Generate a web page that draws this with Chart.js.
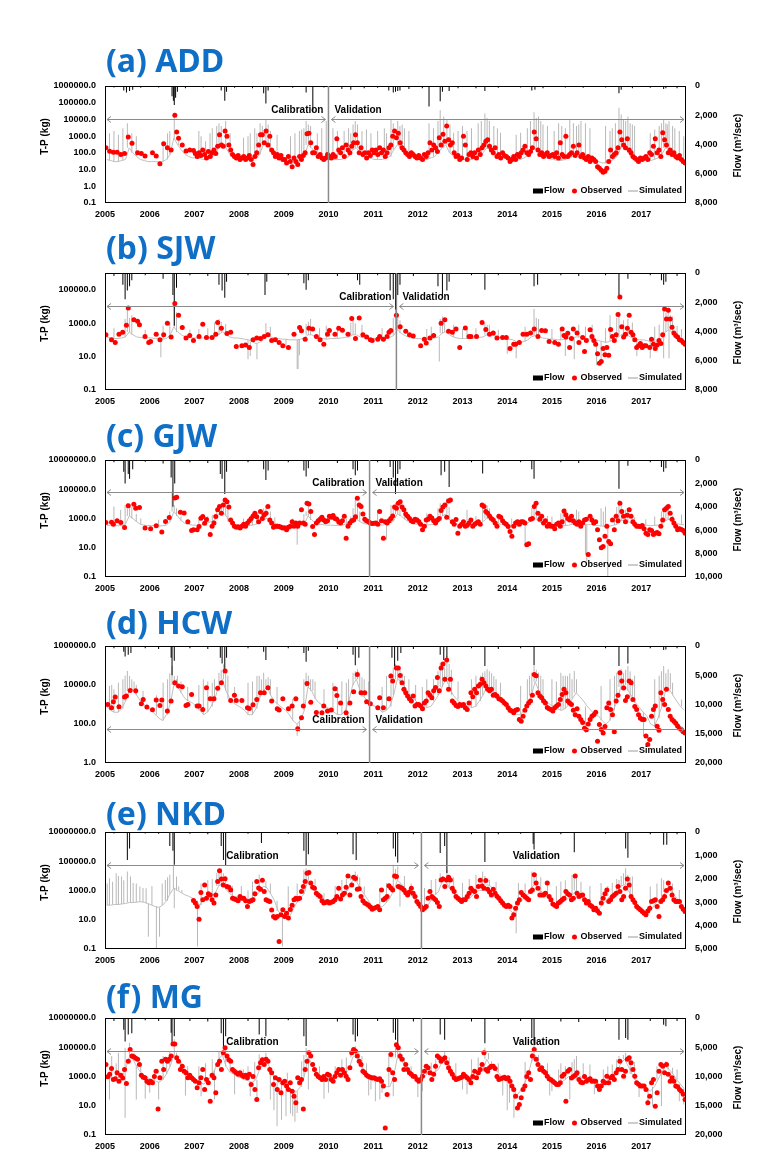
<!DOCTYPE html>
<html>
<head>
<meta charset="utf-8">
<script src="https://cdn.jsdelivr.net/npm/chart.js@4.4.1/dist/chart.umd.min.js"></script>
<style>
body { margin: 0; background: #fff; }
#page { position: relative; width: 780px; height: 1169px; overflow: hidden; }
#page canvas { position: absolute; left: 0; }
</style>
</head>
<body>
<div id="page"></div>
<script>
// x axis: one label per year, the axis closes at 2018 without a label
const yearLabels = [2005, 2006, 2007, 2008, 2009, 2010, 2011, 2012, 2013, 2014, 2015, 2016, 2017];

// observed T-P (kg), half-month slots from Jan 2005, one row per year, 0 = no sample
const obsADD = [
200,0,125,0,110,0,110,0,80,0,90,0,900,0,380,0,0,100,0,90,0,65,0,0,
0,100,0,65,0,22,0,350,0,200,0,150,0,18000,1800,750,0,300,0,130,0,150,0,140,
90,60,100,70,150,80,50,120,60,100,150,90,250,1200,300,250,2000,1000,300,150,80,60,50,70,
40,50,60,40,50,70,40,20,60,100,300,1200,1200,400,2000,300,1000,150,100,60,80,50,70,40,
40,25,60,30,15,50,30,20,60,40,70,100,1400,1500,400,100,100,200,60,80,50,40,50,80,
60,50,80,60,700,150,100,200,60,300,150,100,250,400,1200,400,100,200,80,100,50,100,70,150,
100,150,80,200,100,150,60,100,200,300,1000,2000,800,1500,400,200,150,100,80,60,100,80,60,50,
70,50,40,80,60,100,400,150,300,200,120,800,300,1300,500,4000,600,300,400,100,60,70,40,50,
1000,300,40,80,100,60,100,50,150,80,200,300,500,600,250,150,100,200,60,80,50,100,70,60,
50,30,40,60,40,80,60,100,150,250,100,80,120,200,1800,700,150,80,100,60,80,100,60,70,
80,60,100,50,400,80,60,1000,60,80,100,250,70,100,300,60,80,50,40,60,30,50,40,30,
15,12,9,7,8,12,30,150,60,80,100,200,1800,600,300,200,700,150,100,60,50,40,30,50,
40,50,60,40,100,80,250,700,100,150,60,1600,600,300,100,150,80,100,60,50,70,40,30,25];
const obsSJW = [
200,0,0,100,0,70,0,220,0,290,0,750,8000,0,0,1600,0,1300,800,0,0,160,0,70,
80,0,0,220,0,100,0,200,0,1000,0,150,0,15000,0,3000,0,550,0,130,0,180,0,90,
0,0,160,0,850,0,140,0,0,140,0,220,1100,0,500,0,0,240,0,290,0,0,40,0,
0,45,0,50,0,35,0,100,0,130,0,120,0,160,0,200,0,90,0,100,0,70,0,45,
0,0,35,0,0,220,0,0,550,350,0,110,0,500,0,450,0,160,0,100,0,55,0,220,
360,0,0,220,0,500,0,370,0,0,220,0,1900,0,120,0,2000,0,200,0,150,0,100,90,
0,0,110,160,0,110,0,160,290,360,0,0,3000,0,600,0,0,330,0,200,0,170,0,0,
0,45,0,110,65,0,130,0,180,0,0,0,1000,0,1600,0,330,0,290,0,450,0,35,0,
0,520,0,160,160,0,0,160,0,0,1100,0,420,0,220,0,260,0,130,0,0,140,0,140,
0,30,0,55,55,0,70,0,220,0,220,0,260,0,450,0,160,0,360,0,350,0,80,0,
0,70,0,55,0,450,180,150,250,35,120,450,0,260,70,0,140,20,90,0,400,160,90,55,
15,4,5,30,13,35,12,420,160,90,200,3300,37000,600,150,220,500,3000,290,200,100,35,45,60,
35,45,45,0,35,110,55,30,50,90,60,200,7000,1800,6000,1800,560,260,180,150,100,90,70,55];
const obsGJW = [
530,0,0,560,400,0,690,0,530,0,245,0,7300,0,0,9500,5000,0,5600,0,0,220,0,0,
200,0,0,320,0,0,120,0,620,0,1170,0,0,25000,28000,0,2700,0,2400,0,590,0,150,170,
0,170,285,1050,1370,470,850,0,80,300,500,1370,3900,6600,2300,8500,18600,14000,6000,800,500,300,250,270,
220,300,400,300,500,700,1000,1500,2300,1300,600,3000,1000,1800,2300,6600,800,500,250,300,300,280,250,220,
220,170,250,300,600,300,500,300,500,3900,500,400,11000,10000,3000,280,80,500,700,900,1200,800,600,700,
1400,1200,1600,1000,900,600,500,700,1400,45,300,500,700,800,1300,24000,8500,6600,2000,900,700,600,500,450,
480,500,400,3000,700,45,600,500,700,1000,1500,6000,5000,11000,14000,6000,4000,2000,1400,1000,700,600,900,800,
620,400,170,300,800,900,1400,1100,700,500,800,1000,3500,6000,8500,1200,16000,18600,600,400,850,100,300,400,
600,300,350,500,800,300,400,500,600,400,8500,6600,3000,2300,1500,1000,800,500,300,1400,1200,700,500,400,
280,130,60,300,500,600,400,600,600,500,16,19,900,1000,6600,11000,2300,900,1400,500,700,300,400,300,
300,200,400,500,300,600,3300,1800,1000,800,1400,700,500,400,600,300,500,800,900,3.4,1400,800,500,600,
170,35,10,12,60,300,27,19,800,170,1400,700,11000,3000,1400,600,1700,3900,1400,600,400,300,300,280,
330,200,100,80,170,150,80,100,110,90,300,800,3900,5000,6600,2300,900,500,300,170,200,180,150,100];
const obsHCW = [
0,1000,0,680,1400,2400,0,760,0,0,2400,2700,0,5300,0,0,5000,0,0,1100,1800,0,740,0,
0,540,0,1700,0,900,1700,0,0,470,0,1500,0,13000,0,9000,0,8200,0,900,1000,0,3300,0,
0,830,830,0,560,0,7300,0,2000,0,2000,0,6800,0,13000,0,52000,0,0,1600,0,3000,1600,0,
0,1600,0,0,680,630,0,960,0,1800,0,4000,0,4000,0,7300,0,1500,0,0,610,520,0,2000,
0,0,610,0,830,0,2000,57,0,210,830,0,12000,0,1300,0,0,390,0,0,380,830,0,460,
0,520,0,6500,2900,0,1200,0,0,380,0,1200,0,4500,0,35000,0,4000,0,4000,1400,0,1100,0,
0,0,680,2200,0,680,0,0,2000,29000,16000,0,75000,75000,31000,13000,6000,4000,2700,2000,1500,2700,830,1000,
1000,830,600,1200,1500,4000,3000,2200,5000,7500,24000,5000,75000,120000,20000,190000,6000,20000,1500,1200,900,800,1000,900,
1000,680,560,1200,4000,2500,6000,4000,9000,11000,20000,13000,9000,6000,5000,6000,3000,3300,2700,2000,1800,1500,1200,1000,
680,500,460,380,500,560,170,140,250,500,830,1200,1500,3000,35000,30000,4000,2700,2200,1500,1200,700,600,560,
460,680,830,1000,1800,3300,6000,4000,1500,1200,1000,500,300,600,250,170,120,60,50,100,170,250,300,400,
13,95,52,35,75,680,1200,560,300,40,1500,3000,43000,16000,7000,1600,2500,16000,13000,1800,800,560,300,200,
170,170,24,9,16,250,560,830,77,48,4000,1800,1000,6000,560,250,170,140,110,80,60,52,40,35];
const obsNKD = [
0,0,0,0,0,0,0,0,0,0,0,0,0,0,0,0,0,0,0,0,0,0,0,0,
0,0,0,0,0,0,0,0,0,0,0,0,0,0,0,0,0,0,0,0,0,0,0,210,
140,80,11,730,230,2400,300,590,500,230,140,500,4100,22000,6000,2400,6300,1900,1700,1100,300,260,230,200,
390,300,300,200,80,180,200,230,600,4100,1500,1200,5000,850,230,200,180,47,17,13,17,0.33,22,48,
17,28,13,50,100,230,300,260,300,850,1900,4100,15000,17000,3200,1700,1400,660,500,390,200,140,150,180,
140,160,180,230,390,1400,260,500,660,1700,10000,500,2400,8000,6600,1200,1300,390,200,140,120,100,73,53,
62,70,80,48,1100,230,300,390,2100,1500,1100,10000,9000,1900,1700,1400,1100,700,500,800,1400,660,390,180,
120,80,48,60,80,300,850,390,300,230,150,80,5300,6000,1900,5300,8000,5300,1400,850,390,300,230,180,
230,230,390,660,1400,1000,850,390,1900,5000,2000,1400,4800,1200,800,500,1200,660,400,300,200,140,100,80,
100,80,13,22,62,140,230,730,500,390,300,230,850,1100,12000,3200,1400,500,500,500,660,3200,390,230,
120,100,80,140,180,230,300,850,600,500,230,300,10000,660,390,450,500,230,140,180,100,80,48,62,
40,28,140,300,600,1100,180,230,390,500,660,1900,850,230,390,1400,6000,2400,390,230,150,80,60,48,
37,28,22,40,62,180,200,230,80,17,180,230,390,1000,3200,1400,500,230,180,180,180,80,53,37];
const obsMG = [
6700,960,1400,3500,620,700,1800,480,1200,800,3000,330,11000,71000,25000,22000,18000,15000,6700,1200,900,810,480,370,
480,370,1000,2300,6,810,11000,3000,15000,11000,15000,25000,170000,170000,19000,11000,3000,5100,2300,1800,810,1200,810,620,
480,170,370,810,3000,130,620,370,20,1200,810,76,6700,11000,3000,42000,92000,25000,14000,11000,3000,2300,1800,1400,
1800,1200,1000,1200,810,1400,280,1000,130,27,3900,8700,14000,6700,15000,11000,3000,1800,280,810,130,620,76,370,
480,220,130,370,100,45,16,810,370,620,6,3000,11000,42000,25000,6700,3000,1400,1000,810,620,1000,620,1400,
1200,620,480,1000,1800,3000,1200,3000,1800,1050,620,3900,42000,71000,55000,25000,11000,6700,2300,1800,1200,1000,900,800,
810,700,620,700,480,220,0.3,58,3000,32000,1800,620,150000,92000,25000,15000,3000,6700,3000,1800,1400,1050,1000,620,
480,620,1050,2300,5100,3900,1800,620,1400,5100,25000,19000,11000,15000,19000,8700,3900,2300,1400,810,620,700,800,900,
1400,1050,810,620,370,1000,2300,810,1800,3000,6700,42000,3000,2300,3900,5100,5100,3500,1000,620,700,800,900,700,
810,480,220,130,45,7,12,35,130,220,1000,1800,620,25000,71000,15000,6700,3000,3900,2300,1800,1050,700,600,
480,370,280,280,370,1050,1400,20,2300,3000,800,1000,1200,1800,620,400,370,1000,480,600,700,480,500,480,
220,130,220,480,370,1050,370,810,1050,620,1800,3000,11000,3000,1050,2300,15000,19000,8700,3000,1050,370,300,220,
220,220,130,16,45,370,620,9.3,76,2300,6700,5100,1800,6700,1400,480,810,480,220,200,130,100,60,27];

// simulated T-P (kg), monthly level from Jan 2005
const simADD = [
40,35,30,30,35,40,200,100,60,40,35,30, 30,30,28,30,40,80,800,300,150,80,60,50,
50,45,40,40,50,80,200,400,200,80,60,50, 45,40,40,40,50,80,300,400,150,80,60,50,
40,35,35,35,40,60,300,200,100,60,50,45, 40,40,40,40,50,60,150,200,100,60,50,45,
40,40,40,50,60,150,300,200,100,70,60,50, 45,40,40,50,60,100,200,300,100,70,50,45,
40,40,40,50,60,100,200,150,100,70,50,45, 40,35,35,40,50,70,150,200,100,60,50,45,
40,35,35,40,50,60,100,80,60,50,40,35, 30,25,25,30,40,60,200,300,100,60,50,40,
35,35,35,40,50,80,200,150,100,60,50,40];
const simSJW = [
150,130,120,120,130,150,300,200,150,140,130,130, 130,120,110,110,120,200,600,300,200,150,140,130,
130,130,130,130,140,150,200,300,200,150,130,130, 120,110,100,80,60,70,100,200,150,130,120,110,
110,100,100,100,110,130,200,200,150,130,120,110, 120,120,120,130,140,150,200,200,150,130,120,120,
120,120,120,130,140,180,400,250,180,150,130,120, 120,110,110,120,130,150,250,300,200,150,130,120,
120,120,120,130,140,150,200,200,180,150,130,120, 110,100,80,70,80,100,150,180,150,130,120,110,
110,100,100,110,120,130,150,150,130,120,110,100, 90,80,70,80,100,120,200,250,180,130,110,100,
100,90,80,80,90,120,300,400,250,150,120,100];
const simGJW = [
350,330,320,320,330,400,1500,1000,600,400,350,330, 330,320,310,320,350,600,3000,1500,700,450,400,350,
350,350,400,500,600,800,2000,3000,1500,600,400,350, 330,320,330,350,400,500,800,1000,700,450,400,350,
330,300,300,320,350,400,1500,800,500,400,380,350, 350,340,330,350,400,500,800,900,600,450,400,380,
370,360,350,400,500,700,2000,1500,900,600,450,400, 380,370,360,380,400,500,1500,2000,800,500,420,400,
380,380,380,400,450,600,1000,900,600,450,400,380, 360,340,300,320,400,500,700,1000,600,450,400,370,
350,330,320,330,350,400,500,450,420,400,380,350, 330,300,280,300,350,400,700,800,600,450,400,380,
360,340,320,330,350,400,700,900,600,450,400,370];
const simHCW = [
800,500,400,400,600,1500,5000,6000,3000,1500,1000,700, 500,300,200,150,300,1000,10000,8000,4000,2000,1500,1200,
800,500,300,400,800,2000,8000,20000,5000,2000,1200,900, 700,500,300,300,600,2000,5000,8000,3000,1500,1000,700,
500,300,150,100,150,500,8000,5000,2000,1200,900,700, 600,400,300,300,500,1500,10000,20000,5000,2500,1500,1000,
800,600,400,500,800,3000,20000,15000,8000,4000,2500,1500, 1000,800,700,800,1500,3000,8000,20000,8000,3000,1800,1200,
1000,800,700,800,1500,3000,8000,6000,3000,2000,1500,1000, 800,500,300,300,500,1000,3000,15000,5000,2500,1500,1000,
800,600,500,600,1000,2000,4000,2500,1500,800,500,300, 250,150,100,150,500,1500,8000,10000,5000,2500,1200,700,
400,250,100,80,200,800,5000,6000,3000,1500,800,500];
const simNKD = [
100,100,110,110,120,130,150,150,160,170,160,130, 100,80,70,100,200,600,1500,1000,700,500,400,300,
200,100,300,300,400,600,2000,3000,1200,600,400,350, 300,250,250,300,400,800,2000,1500,600,200,40,20,
15,15,50,150,300,600,5000,2500,1000,500,300,200, 150,180,250,400,600,1500,5000,4000,1500,600,250,100,
70,70,80,150,300,1000,5000,3000,1500,800,400,200, 120,80,80,200,500,800,4000,4000,1500,700,350,200,
200,250,400,800,1000,1000,2500,2000,1000,500,250,100, 50,30,60,150,300,500,1500,3000,1000,800,400,250,
120,100,120,200,300,500,1000,600,400,250,150,80, 50,100,200,400,600,800,2000,2500,1000,400,150,80,
40,30,40,100,200,300,800,1200,600,300,150,60];
const simMG = [
1000,800,700,800,1000,3000,20000,15000,5000,2000,1200,800, 600,500,400,600,1500,5000,30000,15000,5000,2000,1200,800,
600,400,300,500,1000,3000,15000,30000,5000,2000,1500,1000, 800,600,500,400,600,3000,8000,10000,3000,800,400,300,
200,150,100,100,200,1000,20000,8000,2000,1000,800,600, 800,900,1000,1200,1500,3000,20000,30000,8000,3000,1500,1000,
800,600,400,200,200,1000,20000,15000,5000,2000,1200,800, 700,800,1500,2000,2000,3000,10000,20000,5000,2000,1000,800,
800,700,600,800,1500,3000,15000,5000,3000,2000,1000,800, 500,200,50,100,300,1000,10000,30000,5000,2500,1500,800,
500,400,400,600,1000,800,1500,1000,800,700,600,500, 300,300,400,600,800,2000,8000,15000,5000,1500,600,300,
250,150,100,200,600,2000,5000,3000,1500,600,300,150];

// simulated daily extremes [year, T-P kg], drawn as needles from the monthly level
const spkADD = [[2005.1,1500],[2005.2,2000],[2005.3,1200],[2005.4,3000],[2005.5,6000],[2005.6,1500],[2005.7,1000],[2006.3,500],[2006.4,1500],[2006.45,2000],[2006.55,25000],[2006.65,1000],[2007.1,2000],[2007.15,1000],[2007.25,500],[2007.35,1500],[2007.4,3000],[2007.5,4000],[2007.55,6000],[2007.6,4000],[2007.7,8000],[2007.8,1500],[2008.1,800],[2008.2,1000],[2008.25,1500],[2008.35,3000],[2008.4,1500],[2008.47,6000],[2008.52,4000],[2008.6,10000],[2008.65,5000],[2008.7,2000],[2008.85,1200],[2009.15,1000],[2009.25,1500],[2009.35,2000],[2009.4,2500],[2009.45,3000],[2009.5,8000],[2009.55,5000],[2009.6,4000],[2009.75,1500],[2009.85,3000],[2009.95,8000],[2010.1,3000],[2010.2,2000],[2010.35,2000],[2010.45,3000],[2010.5,1500],[2010.55,5000],[2010.6,8000],[2010.65,5000],[2010.75,2000],[2010.85,2500],[2010.95,1500],[2011.1,2000],[2011.25,3000],[2011.3,1500],[2011.4,10000],[2011.45,6000],[2011.55,8000],[2011.6,4000],[2011.65,5000],[2011.7,3000],[2011.8,2000],[2012.25,6000],[2012.35,3000],[2012.45,8000],[2012.5,36000],[2012.58,15000],[2012.65,10000],[2012.72,5000],[2012.8,1600],[2012.9,2000],[2013.0,4000],[2013.1,2000],[2013.2,3000],[2013.35,6000],[2013.42,8000],[2013.5,23000],[2013.55,12000],[2013.6,8000],[2013.7,4000],[2013.78,3000],[2013.85,1600],[2014.2,1200],[2014.3,1600],[2014.45,3000],[2014.52,8000],[2014.6,27000],[2014.65,12000],[2014.7,15000],[2014.75,8000],[2014.8,5000],[2014.9,4000],[2015.05,2000],[2015.15,6000],[2015.22,4000],[2015.3,3000],[2015.4,10000],[2015.48,6000],[2015.55,4000],[2015.6,5000],[2015.65,8000],[2015.75,6000],[2015.85,3000],[2016.2,4000],[2016.3,2000],[2016.35,3000],[2016.42,6000],[2016.5,50000],[2016.55,20000],[2016.6,10000],[2016.65,8000],[2016.7,15000],[2016.75,6000],[2016.8,5000],[2016.85,4000],[2017.2,1500],[2017.3,2500],[2017.4,4000],[2017.45,6000],[2017.5,10000],[2017.55,6000],[2017.58,5000],[2017.62,8000],[2017.7,4000],[2017.75,3000],[2017.85,2000],[2017.95,1000]];
const spkSJW = [[2005.2,500],[2005.45,1800],[2005.5,7000],[2005.55,2000],[2005.6,3000],[2005.9,400],[2006.25,9],[2006.3,700],[2006.45,1000],[2006.55,22000],[2006.6,4500],[2006.9,400],[2007.1,450],[2007.3,500],[2007.45,1100],[2007.55,1800],[2007.6,1200],[2007.7,900],[2008.2,7],[2008.25,11],[2008.4,7],[2008.6,1000],[2008.7,600],[2009.05,36],[2009.3,1.8],[2009.32,1.8],[2009.35,12],[2009.5,900],[2009.55,1200],[2009.6,1800],[2009.8,500],[2009.95,700],[2010.2,500],[2010.5,1100],[2010.55,1400],[2010.6,1000],[2010.75,800],[2011.2,500],[2011.45,2000],[2011.5,7000],[2011.55,3000],[2011.6,1500],[2012.2,450],[2012.3,600],[2012.48,5],[2012.5,1800],[2012.55,2500],[2012.6,1200],[2012.8,800],[2013.0,450],[2013.1,450],[2013.3,500],[2013.5,1000],[2013.55,800],[2013.6,800],[2013.8,400],[2014.0,15],[2014.2,8],[2014.4,600],[2014.6,7000],[2014.65,2000],[2014.7,1800],[2015.0,450],[2015.2,500],[2015.3,11],[2015.5,7],[2015.6,800],[2015.75,600],[2015.9,800],[2016.0,3],[2016.1,5],[2016.2,500],[2016.3,3000],[2016.45,2000],[2016.5,4500],[2016.6,1500],[2016.7,1800],[2016.8,1100],[2016.9,11],[2017.2,8],[2017.3,600],[2017.4,800],[2017.5,10000],[2017.5,8],[2017.55,4000],[2017.6,6000],[2017.62,8],[2017.65,3000],[2017.7,2500],[2017.8,700],[2017.9,450]];
const spkGJW = [[2005.2,6600],[2005.35,4000],[2005.45,8500],[2005.5,11000],[2005.55,6000],[2005.6,5900],[2005.7,2000],[2005.8,1000],[2006.2,810],[2006.35,900],[2006.45,3000],[2006.5,69000],[2006.55,8000],[2006.6,5000],[2006.7,1370],[2007.1,810],[2007.3,1500],[2007.4,1800],[2007.5,3000],[2007.6,6600],[2007.65,10000],[2007.7,18700],[2007.75,5000],[2008.1,1000],[2008.3,2300],[2008.4,2000],[2008.5,3900],[2008.55,5000],[2008.6,6600],[2008.7,3000],[2008.8,1200],[2009.2,1000],[2009.3,16],[2009.45,2000],[2009.5,3000],[2009.55,11000],[2009.6,5000],[2009.8,1500],[2010.2,1370],[2010.4,1000],[2010.5,1370],[2010.55,5000],[2010.6,18700],[2010.65,8000],[2010.7,3000],[2010.8,1370],[2011.1,3900],[2011.3,35],[2011.4,8500],[2011.45,6000],[2011.5,11000],[2011.55,6600],[2011.6,4000],[2011.7,3000],[2012.0,1200],[2012.2,2300],[2012.35,1500],[2012.45,5000],[2012.5,11000],[2012.55,8000],[2012.65,24000],[2012.7,6000],[2013.1,3900],[2013.3,1500],[2013.45,5000],[2013.5,11000],[2013.55,8000],[2013.6,5000],[2013.8,1200],[2014.1,1000],[2014.25,810],[2014.4,16],[2014.55,5000],[2014.6,8500],[2014.65,5000],[2014.7,3000],[2014.9,1500],[2015.0,1370],[2015.2,2300],[2015.25,3000],[2015.3,5000],[2015.45,1500],[2015.55,3900],[2015.6,3000],[2015.75,3.4],[2015.78,1.2],[2015.9,1200],[2016.1,5000],[2016.15,3000],[2016.2,6600],[2016.25,0.11],[2016.4,1500],[2016.45,6000],[2016.5,18700],[2016.55,8000],[2016.65,4000],[2016.7,3000],[2016.85,1200],[2017.1,900],[2017.3,1370],[2017.45,3000],[2017.5,5000],[2017.55,8500],[2017.6,4000],[2017.7,1500],[2017.9,1800]];
const spkHCW = [[2005.1,8900],[2005.15,10000],[2005.2,6000],[2005.3,13200],[2005.4,20000],[2005.45,30000],[2005.5,52000],[2005.55,29000],[2005.6,19600],[2005.65,15000],[2005.7,10000],[2005.85,5000],[2006.15,3000],[2006.3,13200],[2006.4,20000],[2006.45,40000],[2006.5,95000],[2006.55,29000],[2006.6,19600],[2006.62,30000],[2006.7,15000],[2006.85,8000],[2007.1,10000],[2007.2,19600],[2007.3,15000],[2007.4,13200],[2007.45,20000],[2007.55,43000],[2007.6,60000],[2007.65,115000],[2007.7,40000],[2007.75,30000],[2007.9,8000],[2008.2,13200],[2008.3,15000],[2008.4,29000],[2008.45,30000],[2008.5,20000],[2008.55,43000],[2008.6,19600],[2008.65,25000],[2008.7,20000],[2008.85,8000],[2009.2,2000],[2009.3,25],[2009.35,40],[2009.45,20000],[2009.5,43000],[2009.55,30000],[2009.6,19600],[2009.65,20000],[2009.7,15000],[2009.9,6000],[2010.1,13200],[2010.2,8000],[2010.3,15000],[2010.4,13200],[2010.45,20000],[2010.55,43000],[2010.6,50000],[2010.65,64000],[2010.7,30000],[2010.75,25000],[2010.8,19600],[2010.9,15000],[2011.2,8000],[2011.3,29000],[2011.4,40000],[2011.45,80000],[2011.5,115000],[2011.55,90000],[2011.6,64000],[2011.65,40000],[2011.7,30000],[2011.8,19600],[2011.95,10000],[2012.1,8000],[2012.2,19600],[2012.35,20000],[2012.45,50000],[2012.5,140000],[2012.55,100000],[2012.6,80000],[2012.65,310000],[2012.7,120000],[2012.75,60000],[2012.9,15000],[2013.2,19600],[2013.3,30000],[2013.4,30000],[2013.45,43000],[2013.5,50000],[2013.55,64000],[2013.6,50000],[2013.65,40000],[2013.7,29000],[2013.75,20000],[2013.85,13200],[2014.3,8900],[2014.45,20000],[2014.5,30000],[2014.55,43000],[2014.6,95000],[2014.65,60000],[2014.7,43000],[2014.75,30000],[2014.8,20000],[2015.0,19600],[2015.1,15000],[2015.2,43000],[2015.25,30000],[2015.3,30000],[2015.35,29000],[2015.4,40000],[2015.45,20000],[2015.5,52000],[2015.55,19600],[2015.75,35],[2016.1,8900],[2016.3,19600],[2016.4,30000],[2016.45,43000],[2016.5,40000],[2016.55,64000],[2016.6,40000],[2016.65,60000],[2016.7,95000],[2016.75,50000],[2016.8,19600],[2016.85,30000],[2017.05,24],[2017.3,19600],[2017.4,30000],[2017.45,50000],[2017.5,95000],[2017.55,40000],[2017.6,64000],[2017.65,40000],[2017.7,13200],[2017.9,1800]];
const spkNKD = [[2005.05,3000],[2005.1,7000],[2005.17,4000],[2005.25,15000],[2005.3,10000],[2005.37,9000],[2005.42,5000],[2005.5,20000],[2005.57,9000],[2005.63,3200],[2005.7,3000],[2005.78,1900],[2005.85,1500],[2005.92,1400],[2005.97,0.7],[2006.05,2000],[2006.15,0.11],[2006.22,0.7],[2006.28,3000],[2006.35,5300],[2006.4,8000],[2006.45,11800],[2006.53,57000],[2006.55,62],[2006.6,9000],[2006.65,1900],[2006.72,1100],[2007.07,0.15],[2007.15,3000],[2007.3,5300],[2007.4,6000],[2007.5,15000],[2007.55,20000],[2007.6,33000],[2007.65,15000],[2007.7,8000],[2007.85,2000],[2008.05,2000],[2008.2,1000],[2008.3,4000],[2008.45,11800],[2008.6,4100],[2008.7,3000],[2008.85,200],[2008.97,0.15],[2009.1,1900],[2009.3,3000],[2009.45,26000],[2009.5,33000],[2009.55,15000],[2009.7,6000],[2009.9,660],[2010.15,2000],[2010.3,5300],[2010.4,6000],[2010.5,9000],[2010.55,10000],[2010.6,20000],[2010.65,12000],[2010.7,8000],[2010.8,1900],[2011.15,1500],[2011.3,3200],[2011.45,57000],[2011.5,30000],[2011.55,44000],[2011.6,80],[2011.7,10000],[2011.85,3000],[2012.15,1500],[2012.3,5300],[2012.4,6000],[2012.5,15000],[2012.55,10000],[2012.65,26000],[2012.7,12000],[2012.8,8000],[2013.0,3200],[2013.15,6000],[2013.3,11800],[2013.45,20000],[2013.5,10000],[2013.6,5300],[2013.75,4000],[2014.2,1.2],[2014.25,3200],[2014.4,3000],[2014.55,20000],[2014.6,12000],[2014.65,15000],[2014.75,8000],[2014.9,3200],[2015.1,2000],[2015.2,4100],[2015.3,5000],[2015.45,11800],[2015.5,8000],[2015.55,7000],[2015.65,4000],[2015.85,2000],[2016.1,3200],[2016.25,2000],[2016.35,3200],[2016.45,6000],[2016.5,5300],[2016.55,10000],[2016.6,15000],[2016.65,33000],[2016.7,12000],[2016.75,8000],[2016.8,9000],[2017.2,1900],[2017.35,3000],[2017.45,7000],[2017.5,5000],[2017.6,4100],[2017.7,3000],[2017.85,1100]];
const spkMG = [[2005.1,27],[2005.15,25000],[2005.25,8000],[2005.3,42000],[2005.45,92000],[2005.45,1.5],[2005.55,200000],[2005.65,42000],[2005.7,27],[2005.8,5000],[2005.9,30],[2006.0,76],[2006.1,3000],[2006.2,27],[2006.3,25000],[2006.38,15000],[2006.45,55000],[2006.55,350000],[2006.6,42000],[2006.7,10000],[2006.8,50],[2006.85,5000],[2007.1,5100],[2007.15,45],[2007.25,8000],[2007.4,15000],[2007.45,27],[2007.55,55000],[2007.62,30000],[2007.7,120000],[2007.8,8000],[2007.9,60],[2008.1,3000],[2008.2,5100],[2008.25,45],[2008.35,10000],[2008.4,20],[2008.45,32000],[2008.52,20000],[2008.6,42000],[2008.7,27],[2008.78,5],[2008.85,0.4],[2008.95,1.1],[2009.05,1.9],[2009.08,1800],[2009.15,3],[2009.2,1.9],[2009.25,0.8],[2009.3,3.2],[2009.4,11000],[2009.45,30000],[2009.5,92000],[2009.55,130],[2009.65,10000],[2009.8,5100],[2009.9,30],[2010.0,76],[2010.15,5000],[2010.3,15000],[2010.4,20000],[2010.5,42000],[2010.6,120000],[2010.68,50000],[2010.75,25000],[2010.85,8000],[2010.9,50],[2010.95,130],[2011.05,20],[2011.15,27],[2011.2,76],[2011.35,25000],[2011.45,45],[2011.5,200000],[2011.55,80000],[2011.6,55000],[2011.7,20000],[2011.85,5000],[2012.0,40],[2012.1,100],[2012.2,5000],[2012.3,8700],[2012.4,15000],[2012.5,25000],[2012.6,55000],[2012.7,20000],[2012.85,8000],[2013.0,130],[2013.1,60],[2013.2,15000],[2013.35,20000],[2013.5,92000],[2013.58,40000],[2013.65,11000],[2013.8,8000],[2013.9,50],[2014.0,5],[2014.05,16],[2014.15,1.5],[2014.4,10000],[2014.55,42000],[2014.6,160000],[2014.7,30000],[2014.8,5100],[2014.9,8000],[2014.95,50],[2015.0,100],[2015.15,3000],[2015.2,8000],[2015.3,5100],[2015.4,27],[2015.45,10000],[2015.5,15000],[2015.55,25000],[2015.7,8000],[2015.85,6700],[2015.95,60],[2016.15,3000],[2016.25,5000],[2016.35,6700],[2016.45,15000],[2016.5,25000],[2016.6,30000],[2016.65,42000],[2016.75,25000],[2016.85,10000],[2016.95,40],[2017.15,12],[2017.25,10],[2017.35,5000],[2017.45,9.3],[2017.5,8700],[2017.55,11000],[2017.6,8000],[2017.7,3900],[2017.8,3000],[2017.85,20],[2017.95,12]];

// flow (m3/sec) daily peaks [year, flow], hanging from the top of each panel
const flwADD = [[2005.2,100],[2005.42,300],[2005.48,450],[2005.55,350],[2005.62,250],[2005.8,120],[2006.2,100],[2006.5,700],[2006.53,1000],[2006.55,1300],[2006.58,800],[2006.62,400],[2006.8,150],[2007.2,100],[2007.6,300],[2007.68,1000],[2007.72,400],[2007.9,120],[2008.3,150],[2008.55,500],[2008.6,1200],[2008.65,300],[2008.9,100],[2009.2,120],[2009.5,450],[2009.65,1800],[2009.9,100],[2010.3,200],[2010.5,250],[2010.8,150],[2011.1,120],[2011.35,300],[2011.45,450],[2011.5,400],[2011.55,350],[2011.6,300],[2011.8,200],[2012.1,150],[2012.25,1400],[2012.5,1050],[2012.55,400],[2012.7,350],[2012.9,150],[2013.3,150],[2013.5,350],[2013.8,120],[2014.3,100],[2014.55,300],[2014.62,250],[2014.8,150],[2015.3,100],[2015.7,120],[2016.2,100],[2016.5,500],[2016.55,250],[2016.8,150],[2017.2,120],[2017.5,200],[2017.55,150],[2017.8,150]];
const flwSJW = [[2005.2,200],[2005.4,800],[2005.45,1800],[2005.5,1200],[2005.55,900],[2005.6,500],[2005.9,150],[2006.3,400],[2006.52,1500],[2006.55,3600],[2006.6,1000],[2006.9,150],[2007.3,200],[2007.55,800],[2007.62,1200],[2007.68,1700],[2007.72,600],[2008.2,150],[2008.58,1500],[2008.62,600],[2009.1,150],[2009.45,700],[2009.5,1150],[2009.55,500],[2010.2,200],[2010.65,500],[2010.7,800],[2011.1,150],[2011.38,1200],[2011.45,1800],[2011.5,2500],[2011.55,1500],[2011.6,800],[2011.9,200],[2012.45,900],[2012.55,1600],[2012.65,1200],[2012.7,600],[2013.2,150],[2013.5,1150],[2013.8,150],[2014.3,150],[2014.6,900],[2014.68,800],[2015.2,150],[2015.6,200],[2016.2,150],[2016.5,1700],[2016.7,400],[2017.2,150],[2017.45,500],[2017.5,800],[2017.55,600],[2017.8,200]];
const flwGJW = [[2005.2,200],[2005.42,1000],[2005.45,2000],[2005.52,1200],[2005.55,1600],[2005.62,800],[2005.9,150],[2006.3,300],[2006.48,1500],[2006.52,4000],[2006.56,2000],[2006.9,200],[2007.3,250],[2007.58,1200],[2007.62,1600],[2007.68,2900],[2007.72,1000],[2008.2,200],[2008.55,800],[2008.6,1700],[2008.65,900],[2009.1,200],[2009.45,900],[2009.5,1400],[2009.55,700],[2010.2,250],[2010.55,800],[2010.6,1300],[2010.65,900],[2011.1,200],[2011.38,600],[2011.45,1500],[2011.5,2900],[2011.55,1200],[2011.6,800],[2011.9,200],[2012.52,1300],[2012.6,1000],[2012.7,2300],[2013.2,200],[2013.45,1150],[2013.8,200],[2014.3,200],[2014.55,800],[2014.6,1600],[2015.2,200],[2015.6,250],[2016.2,200],[2016.5,2450],[2016.7,500],[2017.2,200],[2017.45,600],[2017.5,1000],[2017.55,700],[2017.8,200]];
const flwHCW = [[2005.2,400],[2005.42,1000],[2005.45,1800],[2005.52,1500],[2005.58,1200],[2005.9,400],[2006.2,500],[2006.48,2000],[2006.5,5000],[2006.55,2500],[2006.9,400],[2007.3,500],[2007.58,2000],[2007.62,3000],[2007.68,4100],[2007.72,2000],[2008.2,400],[2008.55,1000],[2008.6,2400],[2009.1,400],[2009.45,1200],[2009.5,2700],[2009.55,800],[2010.2,500],[2010.55,1500],[2010.6,3300],[2010.68,2000],[2011.1,400],[2011.42,2000],[2011.48,3500],[2011.55,2500],[2011.62,1200],[2011.9,500],[2012.5,1500],[2012.58,2400],[2012.65,2000],[2013.2,400],[2013.5,3400],[2013.8,500],[2014.3,400],[2014.6,3300],[2015.2,400],[2015.6,500],[2016.2,400],[2016.5,3400],[2016.7,3000],[2017.2,400],[2017.5,700],[2017.55,600],[2017.8,400]];
const flwNKD = [[2005.2,60],[2005.5,1200],[2005.55,700],[2005.9,60],[2006.2,80],[2006.45,600],[2006.52,800],[2006.55,1400],[2006.9,80],[2007.3,100],[2007.6,600],[2007.65,1200],[2007.7,1450],[2008.2,80],[2008.5,470],[2009.1,80],[2009.45,800],[2009.5,1450],[2009.55,950],[2010.2,100],[2010.55,950],[2010.62,1200],[2011.1,80],[2011.45,700],[2011.5,1050],[2011.55,1300],[2011.9,100],[2012.5,900],[2012.6,600],[2012.65,1750],[2013.2,100],[2013.5,1280],[2013.8,100],[2014.3,80],[2014.58,500],[2014.6,750],[2015.2,100],[2015.5,870],[2016.2,80],[2016.65,700],[2016.7,1100],[2017.2,100],[2017.5,550],[2017.57,550],[2017.8,100]];
const flwMG = [[2005.2,500],[2005.42,2000],[2005.45,4000],[2005.52,2800],[2005.6,2600],[2005.9,400],[2006.2,500],[2006.48,2500],[2006.5,4300],[2006.55,3100],[2006.9,500],[2007.3,600],[2007.6,2600],[2007.65,5100],[2007.7,3100],[2008.2,500],[2008.45,2800],[2008.6,3100],[2009.1,400],[2009.45,3100],[2009.5,4800],[2010.2,600],[2010.55,2800],[2010.6,4000],[2010.65,3100],[2011.1,500],[2011.45,2500],[2011.5,3700],[2011.55,4300],[2011.9,600],[2012.5,2800],[2012.6,3700],[2013.2,600],[2013.5,4300],[2013.8,500],[2014.3,500],[2014.55,3400],[2014.6,4300],[2015.2,600],[2015.6,700],[2016.2,500],[2016.5,3700],[2016.65,3400],[2016.7,3700],[2017.2,500],[2017.5,1150],[2017.55,1400],[2017.8,500]];

// left (log) tick values per panel
const ticksEvery = [0.1, 1, 10, 100, 1000, 10000, 100000, 1000000];
const ticksOdd6 = [0.1, 10, 1000, 100000];
const ticksOdd7 = [0.1, 10, 1000, 100000, 10000000];
const ticksEven = [1, 100, 10000, 1000000];

const panels = [
  { title: '(a) ADD', top: 86, tb: 72, obs: obsADD, sim: simADD, spk: spkADD, flw: flwADD,
    yMin: 0.1, yMax: 1e6, yTicks: ticksEvery, fMax: 8000, fStep: 2000,
    split: 2010.0, arrowY: 1e4, cal: 'right', val: 'left' },
  { title: '(b) SJW', top: 273, tb: 259, obs: obsSJW, sim: simSJW, spk: spkSJW, flw: flwSJW,
    yMin: 0.1, yMax: 1e6, yTicks: ticksOdd6, fMax: 8000, fStep: 2000,
    split: 2011.52, arrowY: 1e4, cal: 'right', val: 'left' },
  { title: '(c) GJW', top: 460, tb: 447, obs: obsGJW, sim: simGJW, spk: spkGJW, flw: flwGJW,
    yMin: 0.1, yMax: 1e7, yTicks: ticksOdd7, fMax: 10000, fStep: 2000,
    split: 2010.92, arrowY: 6e4, cal: 'right', val: 'left' },
  { title: '(d) HCW', top: 646, tb: 634, obs: obsHCW, sim: simHCW, spk: spkHCW, flw: flwHCW,
    yMin: 1, yMax: 1e6, yTicks: ticksEven, fMax: 20000, fStep: 5000,
    split: 2010.92, arrowY: 55, cal: 'right', val: 'left' },
  { title: '(e) NKD', top: 832, tb: 825, obs: obsNKD, sim: simNKD, spk: spkNKD, flw: flwNKD,
    yMin: 0.1, yMax: 1e7, yTicks: ticksOdd7, fMax: 5000, fStep: 1000,
    split: 2012.08, arrowY: 5.6e4, cal: 2008.3, val: 2014.65 },
  { title: '(f) MG', top: 1018, tb: 1008, obs: obsMG, sim: simMG, spk: spkMG, flw: flwMG,
    yMin: 0.1, yMax: 1e7, yTicks: ticksOdd7, fMax: 20000, fStep: 5000,
    split: 2012.08, arrowY: 5.6e4, cal: 2008.3, val: 2014.65 }
];

const FONT = 'Arial, "Liberation Sans", sans-serif';
const PAD_TOP = 45, PLOT_H = 117, X_AXIS_H = 24;
const tickFont = { family: FONT, size: 9, weight: 'bold' };

function line(ctx, x1, y1, x2, y2) {
  ctx.beginPath(); ctx.moveTo(x1, y1); ctx.lineTo(x2, y2); ctx.stroke();
}
function arrow(ctx, x1, x2, y) {
  line(ctx, x1, y, x2, y);
  ctx.beginPath();
  ctx.moveTo(x1 + 4, y - 3); ctx.lineTo(x1, y); ctx.lineTo(x1 + 4, y + 3);
  ctx.moveTo(x2 - 4, y - 3); ctx.lineTo(x2, y); ctx.lineTo(x2 - 4, y + 3);
  ctx.stroke();
}
function vtext(ctx, s, x, y) {
  ctx.save(); ctx.translate(x, y); ctx.rotate(-Math.PI / 2);
  ctx.textAlign = 'center'; ctx.textBaseline = 'middle';
  ctx.fillText(s, 0, 0); ctx.restore();
}
function simAt(sim, t) {
  const i = Math.floor((t - 2005) * 12);
  return sim[Math.max(0, Math.min(sim.length - 1, i))];
}

// frame, split line, period arrows, legend, axis titles and panel title
function decor(p) {
  return {
    id: 'decor',
    afterDatasetsDraw(chart) {
      const { ctx, chartArea: a, scales: { x, y } } = chart;
      const xs = x.getPixelForValue(p.split);
      const ya = Math.round(y.getPixelForValue(p.arrowY)) + 0.5;
      ctx.save();
      ctx.strokeStyle = '#000'; ctx.lineWidth = 1;
      ctx.strokeRect(a.left + 0.5, a.top + 0.5, a.width - 1, a.height - 1);
      ctx.strokeStyle = '#8a8a8a'; ctx.lineWidth = 1.5;
      line(ctx, xs, a.top, xs, a.bottom);
      ctx.lineWidth = 1;
      arrow(ctx, a.left + 2, xs - 3, ya);
      arrow(ctx, xs + 3, a.right - 2, ya);

      ctx.fillStyle = '#000';
      ctx.font = 'bold 10px ' + FONT;
      ctx.textBaseline = 'middle';
      const put = (s, where) => {
        if (where === 'right') { ctx.textAlign = 'right'; ctx.fillText(s, xs - 5, ya - 9); }
        else if (where === 'left') { ctx.textAlign = 'left'; ctx.fillText(s, xs + 6, ya - 9); }
        else { ctx.textAlign = 'center'; ctx.fillText(s, x.getPixelForValue(where), ya - 9); }
      };
      put('Calibration', p.cal);
      put('Validation', p.val);

      // legend, laid out from the right edge
      ctx.font = 'bold 9px ' + FONT;
      ctx.textAlign = 'right';
      const ly = a.bottom - 12;
      let lx = a.right - 4;
      ctx.fillText('Simulated', lx, ly);
      lx -= ctx.measureText('Simulated').width + 1;
      ctx.strokeStyle = '#bdbdbd'; ctx.lineWidth = 1.5;
      line(ctx, lx - 10, ly, lx, ly);
      lx -= 16;
      ctx.fillText('Observed', lx, ly);
      lx -= ctx.measureText('Observed').width + 3.5;
      ctx.fillStyle = '#ff0000';
      ctx.beginPath(); ctx.arc(lx - 2.5, ly, 2.5, 0, Math.PI * 2); ctx.fill();
      lx -= 12.5;
      ctx.fillStyle = '#000';
      ctx.fillText('Flow', lx, ly);
      lx -= ctx.measureText('Flow').width + 1;
      ctx.fillRect(lx - 10, ly - 2.5, 10, 5);

      ctx.font = 'bold 10px ' + FONT;
      const mid = (a.top + a.bottom) / 2;
      vtext(ctx, 'T-P (kg)', 45, mid - 8);
      vtext(ctx, 'Flow (m\u00b3/sec)', 738, mid + 1);

      ctx.font = 'bold 32px "Noto Sans", ' + FONT;
      ctx.fillStyle = '#0f6fc6';
      ctx.textAlign = 'left'; ctx.textBaseline = 'alphabetic';
      ctx.fillText(p.title, 106, p.tb - (p.top - PAD_TOP));
      ctx.restore();
    }
  };
}

const page = document.getElementById('page');
panels.forEach(p => {
  const cv = document.createElement('canvas');
  cv.width = 780;
  cv.height = PAD_TOP + PLOT_H + X_AXIS_H;
  cv.style.top = (p.top - PAD_TOP) + 'px';
  page.appendChild(cv);

  const obsPts = [];
  p.obs.forEach((v, i) => { if (v > 0) obsPts.push({ x: 2005 + (i + 0.5) / 24, y: v }); });
  const simPts = p.sim.map((v, i) => ({ x: 2005 + (i + 0.5) / 12, y: v }));
  const spkBars = p.spk.map(([t, v]) => ({ x: t, y: [simAt(p.sim, t), v] }));
  const flwBars = p.flw.map(([t, v]) => ({ x: t, y: v }));

  new Chart(cv, {
    type: 'line',
    data: {
      datasets: [
        { type: 'line', data: simPts, borderColor: '#c0c0c0', borderWidth: 1, pointRadius: 0, order: 4 },
        { type: 'bar', data: spkBars, backgroundColor: '#b8b8b8', barThickness: 1, inflateAmount: 0,
          grouped: false, order: 3 },
        { type: 'bar', data: flwBars, yAxisID: 'f', backgroundColor: '#000', barThickness: 1, inflateAmount: 0,
          grouped: false, order: 2 },
        { type: 'line', data: obsPts, showLine: false, pointRadius: 2.5, pointBackgroundColor: '#ff0000',
          pointBorderWidth: 0, order: 1 }
      ]
    },
    options: {
      responsive: false,
      animation: false,
      events: [],
      layout: { autoPadding: false, padding: { top: PAD_TOP } },
      plugins: { legend: { display: false }, tooltip: { enabled: false } },
      scales: {
        x: {
          type: 'linear', min: 2005, max: 2018, offset: false,
          grid: { display: false, drawTicks: false }, border: { display: false },
          ticks: { stepSize: 1, autoSkip: false, maxRotation: 0, padding: 6, font: tickFont, color: '#000',
                   callback: v => yearLabels.includes(v) ? String(v) : '' },
          afterFit: s => { s.height = X_AXIS_H; }
        },
        y: {
          type: 'logarithmic', position: 'left', min: p.yMin, max: p.yMax,
          grid: { display: false, drawTicks: false }, border: { display: false },
          afterBuildTicks: s => { s.ticks = p.yTicks.map(v => ({ value: v })); },
          ticks: { autoSkip: false, padding: 9, font: tickFont, color: '#000',
                   callback: v => Number(v).toFixed(1) },
          afterFit: s => { s.width = 105; }
        },
        f: {
          type: 'linear', position: 'right', reverse: true, min: 0, max: p.fMax,
          grid: { display: false, drawTicks: false }, border: { display: false },
          ticks: { stepSize: p.fStep, autoSkip: false, padding: 9, font: tickFont, color: '#000',
                   callback: v => v.toLocaleString('en-US') },
          afterFit: s => { s.width = 94; }
        }
      }
    },
    plugins: [decor(p)]
  });
});
</script>
</body>
</html>
